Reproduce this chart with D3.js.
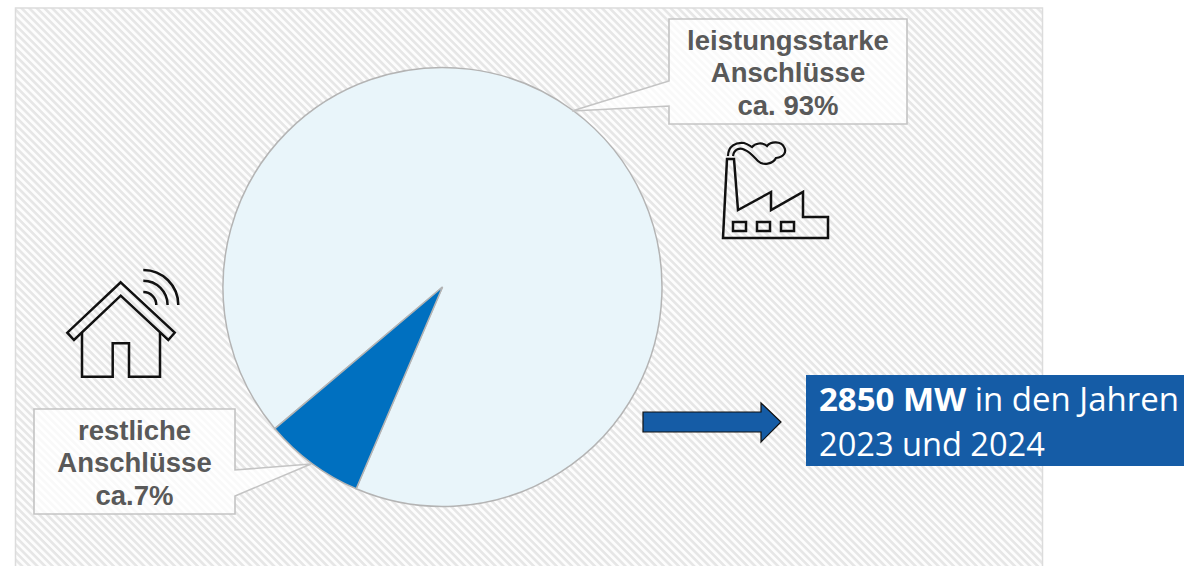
<!DOCTYPE html>
<html><head><meta charset="utf-8">
<script src="https://cdn.jsdelivr.net/npm/d3@7"></script>
<style>html,body{margin:0;padding:0;background:#fff;overflow:hidden}svg{display:block}</style>
</head><body><svg id="c" width="1184" height="566"></svg>
<script>
const categories = ["leistungsstarke Anschlüsse", "restliche Anschlüsse"];
const shares = [92.6, 7.4];
const sliceColors = ["#E9F5FA", "#0070C0"];
const labelLines = [["leistungsstarke", "Anschlüsse", "ca. 93%"], ["restliche", "Anschlüsse", "ca.7%"]];
const noteBold = "2850 MW";
const noteLine1 = " in den Jahren";
const noteLine2 = "2023 und 2024";

const svg = d3.select("#c");
const defs = svg.append("defs");
const pat = defs.append("pattern").attr("id", "hatch").attr("patternUnits", "userSpaceOnUse")
  .attr("width", 5.4).attr("height", 5.4).attr("patternTransform", "rotate(45)");
pat.append("rect").attr("width", 5.4).attr("height", 5.4).attr("fill", "#fdfdfd");
pat.append("rect").attr("width", 5.4).attr("height", 2.6).attr("fill", "#e6e6e6");

svg.append("rect").attr("x", 15.5).attr("y", 8).attr("width", 1027).attr("height", 562)
  .attr("fill", "url(#hatch)").attr("stroke", "#dcdcdc").attr("stroke-width", 1.5);

// Pie
const cx = 442.5, cy = 287, R = 219.5;
const pie = d3.pie().sort(null).startAngle(229.8 * Math.PI / 180).endAngle((229.8 + 360) * Math.PI / 180);
const arc = d3.arc().innerRadius(0).outerRadius(R);
svg.append("g").attr("transform", `translate(${cx},${cy})`)
  .selectAll("path").data(pie(shares)).join("path")
  .attr("d", arc).attr("fill", (d, i) => sliceColors[i])
  .attr("stroke", "#b4b4b4").attr("stroke-width", 1.5);

// Callouts
const callouts = [
  {path: "M669,19H907V124H669V106L572,111L669,81Z", lines: labelLines[0], tx: 788, ty: 50},
  {path: "M34,409H235V470L311,464L235,496V514H34Z", lines: labelLines[1], tx: 134.5, ty: 440}
];
callouts.forEach(c => {
  svg.append("path").attr("d", c.path).attr("fill", "#fff").attr("fill-opacity", 0.75)
    .attr("stroke", "#c4c4c4").attr("stroke-width", 1.6);
  c.lines.forEach((t, i) => svg.append("text").attr("x", c.tx).attr("y", c.ty + i * 32.3)
    .attr("text-anchor", "middle").attr("font-family", "Liberation Sans").attr("font-weight", 700)
    .attr("font-size", 27.5).attr("fill", "#595959").text(t));
});

const ink = g => g.attr("fill", "none").attr("stroke", "#111").attr("stroke-width", 2.5).attr("stroke-linejoin", "miter");

// Factory icon
const f = svg.append("g").call(ink);
f.append("path").attr("d", "M723,238H828V217H803V192L771,210V192L738,210L734,159H727Z");
[733, 757, 781].forEach(x => f.append("rect").attr("x", x).attr("y", 222).attr("width", 13).attr("height", 9));
f.append("path").attr("stroke-width", 2.2).attr("d",
  "M728,156C728,146 736,142 744,143C748,144 750,146 752,147C755,143 763,142 767,146C771,141 781,141 784,147C787,152 784,157 776,158C773,164 763,166 758,161C754,157 750,152 745,150C740,147 734,149 733,156");

// House icon
const h = svg.append("g").call(ink);
h.append("path").attr("d", "M120.7,282.3L174.7,332.7L168.3,340L120.7,295.7L74,340L67.3,332.7Z");
h.append("path").attr("d", "M82,333V376.7H112.7V343.3H129V376.7H160V333");
[35, 24.3, 13].forEach(r => h.append("path").attr("transform", "translate(143.3,305)")
  .attr("d", d3.arc().innerRadius(r).outerRadius(r).startAngle(0).endAngle(Math.PI / 2)()));

// Arrow
svg.append("path").attr("d", "M643,412H761V403L781,422L761,442V432H643Z")
  .attr("fill", "#155CA6").attr("stroke", "#111").attr("stroke-width", 1.2);

// Note
svg.append("rect").attr("x", 806).attr("y", 375).attr("width", 378).attr("height", 91).attr("fill", "#155CA6");
const nt = svg.append("text").attr("x", 819).attr("y", 411).attr("font-family", "Open Sans").attr("font-size", 33).attr("fill", "#fff");
nt.append("tspan").attr("font-weight", 700).text(noteBold);
nt.append("tspan").attr("xml:space", "preserve").text(noteLine1);
svg.append("text").attr("x", 819).attr("y", 456).attr("font-family", "Open Sans").attr("font-size", 32.6).attr("fill", "#fff").text(noteLine2);
</script></body></html>
